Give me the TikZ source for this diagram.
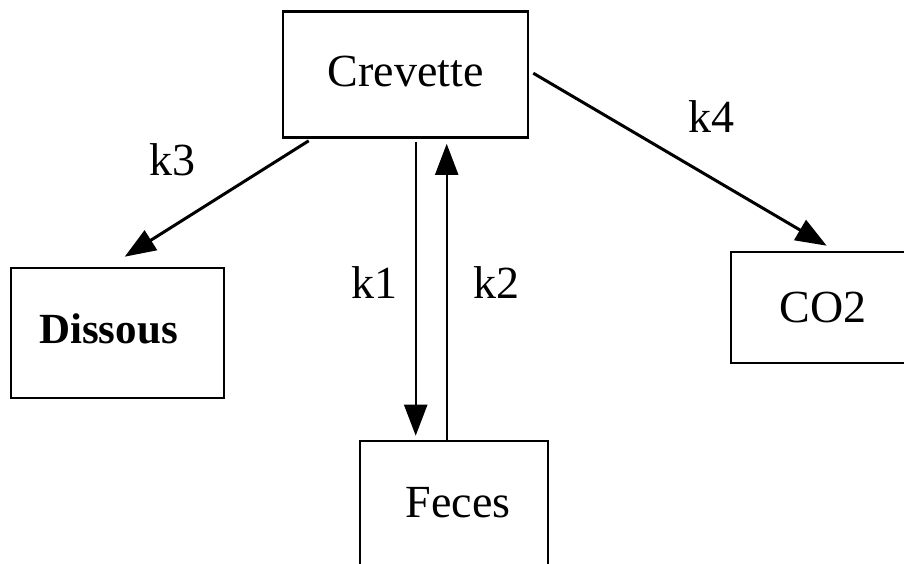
\documentclass[tikz,border=0pt]{standalone}
\usepackage{fontspec}
\setmainfont{Liberation Serif}
\usetikzlibrary{arrows.meta,calc}
\tikzset{
  box/.style={draw=black, line width=2.6pt, rectangle, inner sep=0pt,
    font=\fontsize{46}{50}\selectfont},
  klabel/.style={anchor=base, inner sep=0pt, font=\fontsize{46}{50}\selectfont},
  arr/.style={line width=3pt, -{Triangle[length=31pt,width=23pt]}},
  varr/.style={line width=2.4pt, -{Triangle[length=31pt,width=23pt]}}
}
\begin{document}
\begin{tikzpicture}[x=1pt,y=-1pt]
\useasboundingbox (0,0) rectangle (904,563);
\clip (0,0) rectangle (904,563);
\fill[white] (0,0) rectangle (904,563);
\node[box, minimum width=245pt, minimum height=126pt,
  text height=30pt, text depth=7pt] (crev) at (405.5,74.5) {Crevette};
\node[box, minimum width=213pt, minimum height=130pt,
  text height=30pt, text depth=10pt,
  font=\fontsize{43}{48}\selectfont\bfseries] (dis) at (117.5,333) {Dissous\hspace*{18pt}};
\node[box, minimum width=184pt, minimum height=111pt] (co2) at (823,307.5) {CO2};
\node[box, minimum width=188pt, minimum height=134pt,
  text height=30pt, text depth=12pt] (fec) at (454,508) {\hspace*{8pt}Feces};
\draw[arr] ($(crev.south west)+(27,2)$) -- ($(dis.north west)+(115,-10)$);
\draw[arr] ($(crev.north east)+(4,63)$) -- ($(co2.north west)+(97,-5)$);
\draw[varr] ($(crev.south west)+(134,3)$) -- ($(fec.north west)+(57,-4)$);
\draw[varr, line width=2pt] ($(fec.north west)+(88,0)$) -- ($(crev.south west)+(165,5)$);
\node[klabel] (k3) at (172,175) {k3};
\node[klabel] (k4) at (711,132) {k4};
\node[klabel] (k1) at (374,298) {k1};
\node[klabel] (k2) at (496,298) {k2};
\end{tikzpicture}
\end{document}
